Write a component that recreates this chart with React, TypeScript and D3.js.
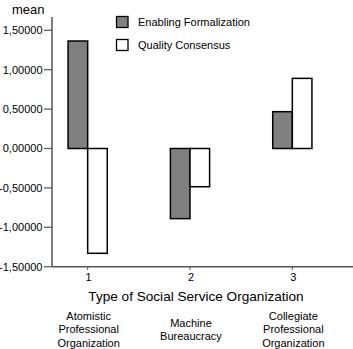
import React from "react";
import * as d3 from "d3";

const categories = ["1", "2", "3"];
const categoryNames = [
  ["Atomistic", "Professional", "Organization"],
  ["Machine", "Bureaucracy"],
  ["Collegiate", "Professional", "Organization"],
];
const seriesNames = ["Enabling Formalization", "Quality Consensus"];
const enablingFormalization = [1.364, -0.89, 0.467];
const qualityConsensus = [-1.33, -0.485, 0.89];
const yTicks = [1.5, 1.0, 0.5, 0.0, -0.5, -1.0, -1.5];
const seriesFill = ["#808080", "#ffffff"];

const fmt = (v: number) => v.toFixed(5).replace(".", ",");

export default function App() {
  const W = 353, H = 349;
  const y = d3.scaleLinear().domain([-1.5, 1.5]).range([266.7, 30.3]);
  const x = d3.scaleBand().domain(categories).range([36.5, 343.5]).padding(0);
  const bw = 19.6;
  const font = "Liberation Sans, Arial, sans-serif";
  const series = [enablingFormalization, qualityConsensus];
  return (
    <svg width={W} height={H} style={{ position: "absolute", left: 0, top: 0 }} fontFamily={font}>
      <rect width={W} height={H} fill="#fff" />
      <text x={12} y={14} fontSize={13} fill="#000">mean</text>
      {/* y axis */}
      <line x1={52} x2={52} y1={17} y2={267} stroke="#555" strokeWidth={1.5} />
      {yTicks.map((t) => (
        <g key={t}>
          <line x1={44} x2={52} y1={y(t)} y2={y(t)} stroke="#555" strokeWidth={1.2} />
          <text x={42.5} y={y(t)} dy="0.35em" textAnchor="end" fontSize={11} fill="#000">{fmt(t)}</text>
        </g>
      ))}
      {/* x axis */}
      <line x1={52} x2={353} y1={266.7} y2={266.7} stroke="#555" strokeWidth={1.5} />
      {categories.map((c, i) => {
        const cx = x(c)! + x.bandwidth() / 2;
        return (
          <g key={c}>
            <line x1={cx} x2={cx} y1={266} y2={270} stroke="#555" strokeWidth={1} />
            <text x={cx + 1} y={281} textAnchor="middle" fontSize={11}>{c}</text>
            {categoryNames[i].map((ln, j) => {
              const n = categoryNames[i].length;
              const y0 = n === 3 ? 320 : 327;
              return (
                <text key={j} x={cx + 1} y={y0 + j * 13.3} textAnchor="middle" fontSize={11}>{ln}</text>
              );
            })}
          </g>
        );
      })}
      <text x={196} y={300.5} textAnchor="middle" fontSize={13.6}>Type of Social Service Organization</text>
      {/* bars */}
      {categories.map((c, i) => {
        const cx = x(c)! + x.bandwidth() / 2;
        return series.map((s, k) => {
          const v = s[i];
          const y0 = y(Math.max(0, v));
          const h = Math.abs(y(v) - y(0));
          return (
            <rect key={c + k} x={cx - bw + k * bw} y={y0} width={bw} height={h}
              fill={seriesFill[k]} stroke="#000" strokeWidth={1.5} />
          );
        });
      })}
      {/* legend */}
      {seriesNames.map((n, k) => (
        <g key={n}>
          <rect x={116.5} y={16.5 + k * 23} width={11.5} height={11} fill={seriesFill[k]} stroke="#000" strokeWidth={1.3} />
          <text x={138} y={22 + k * 23} dy="0.35em" fontSize={11}>{n}</text>
        </g>
      ))}
    </svg>
  );
}
